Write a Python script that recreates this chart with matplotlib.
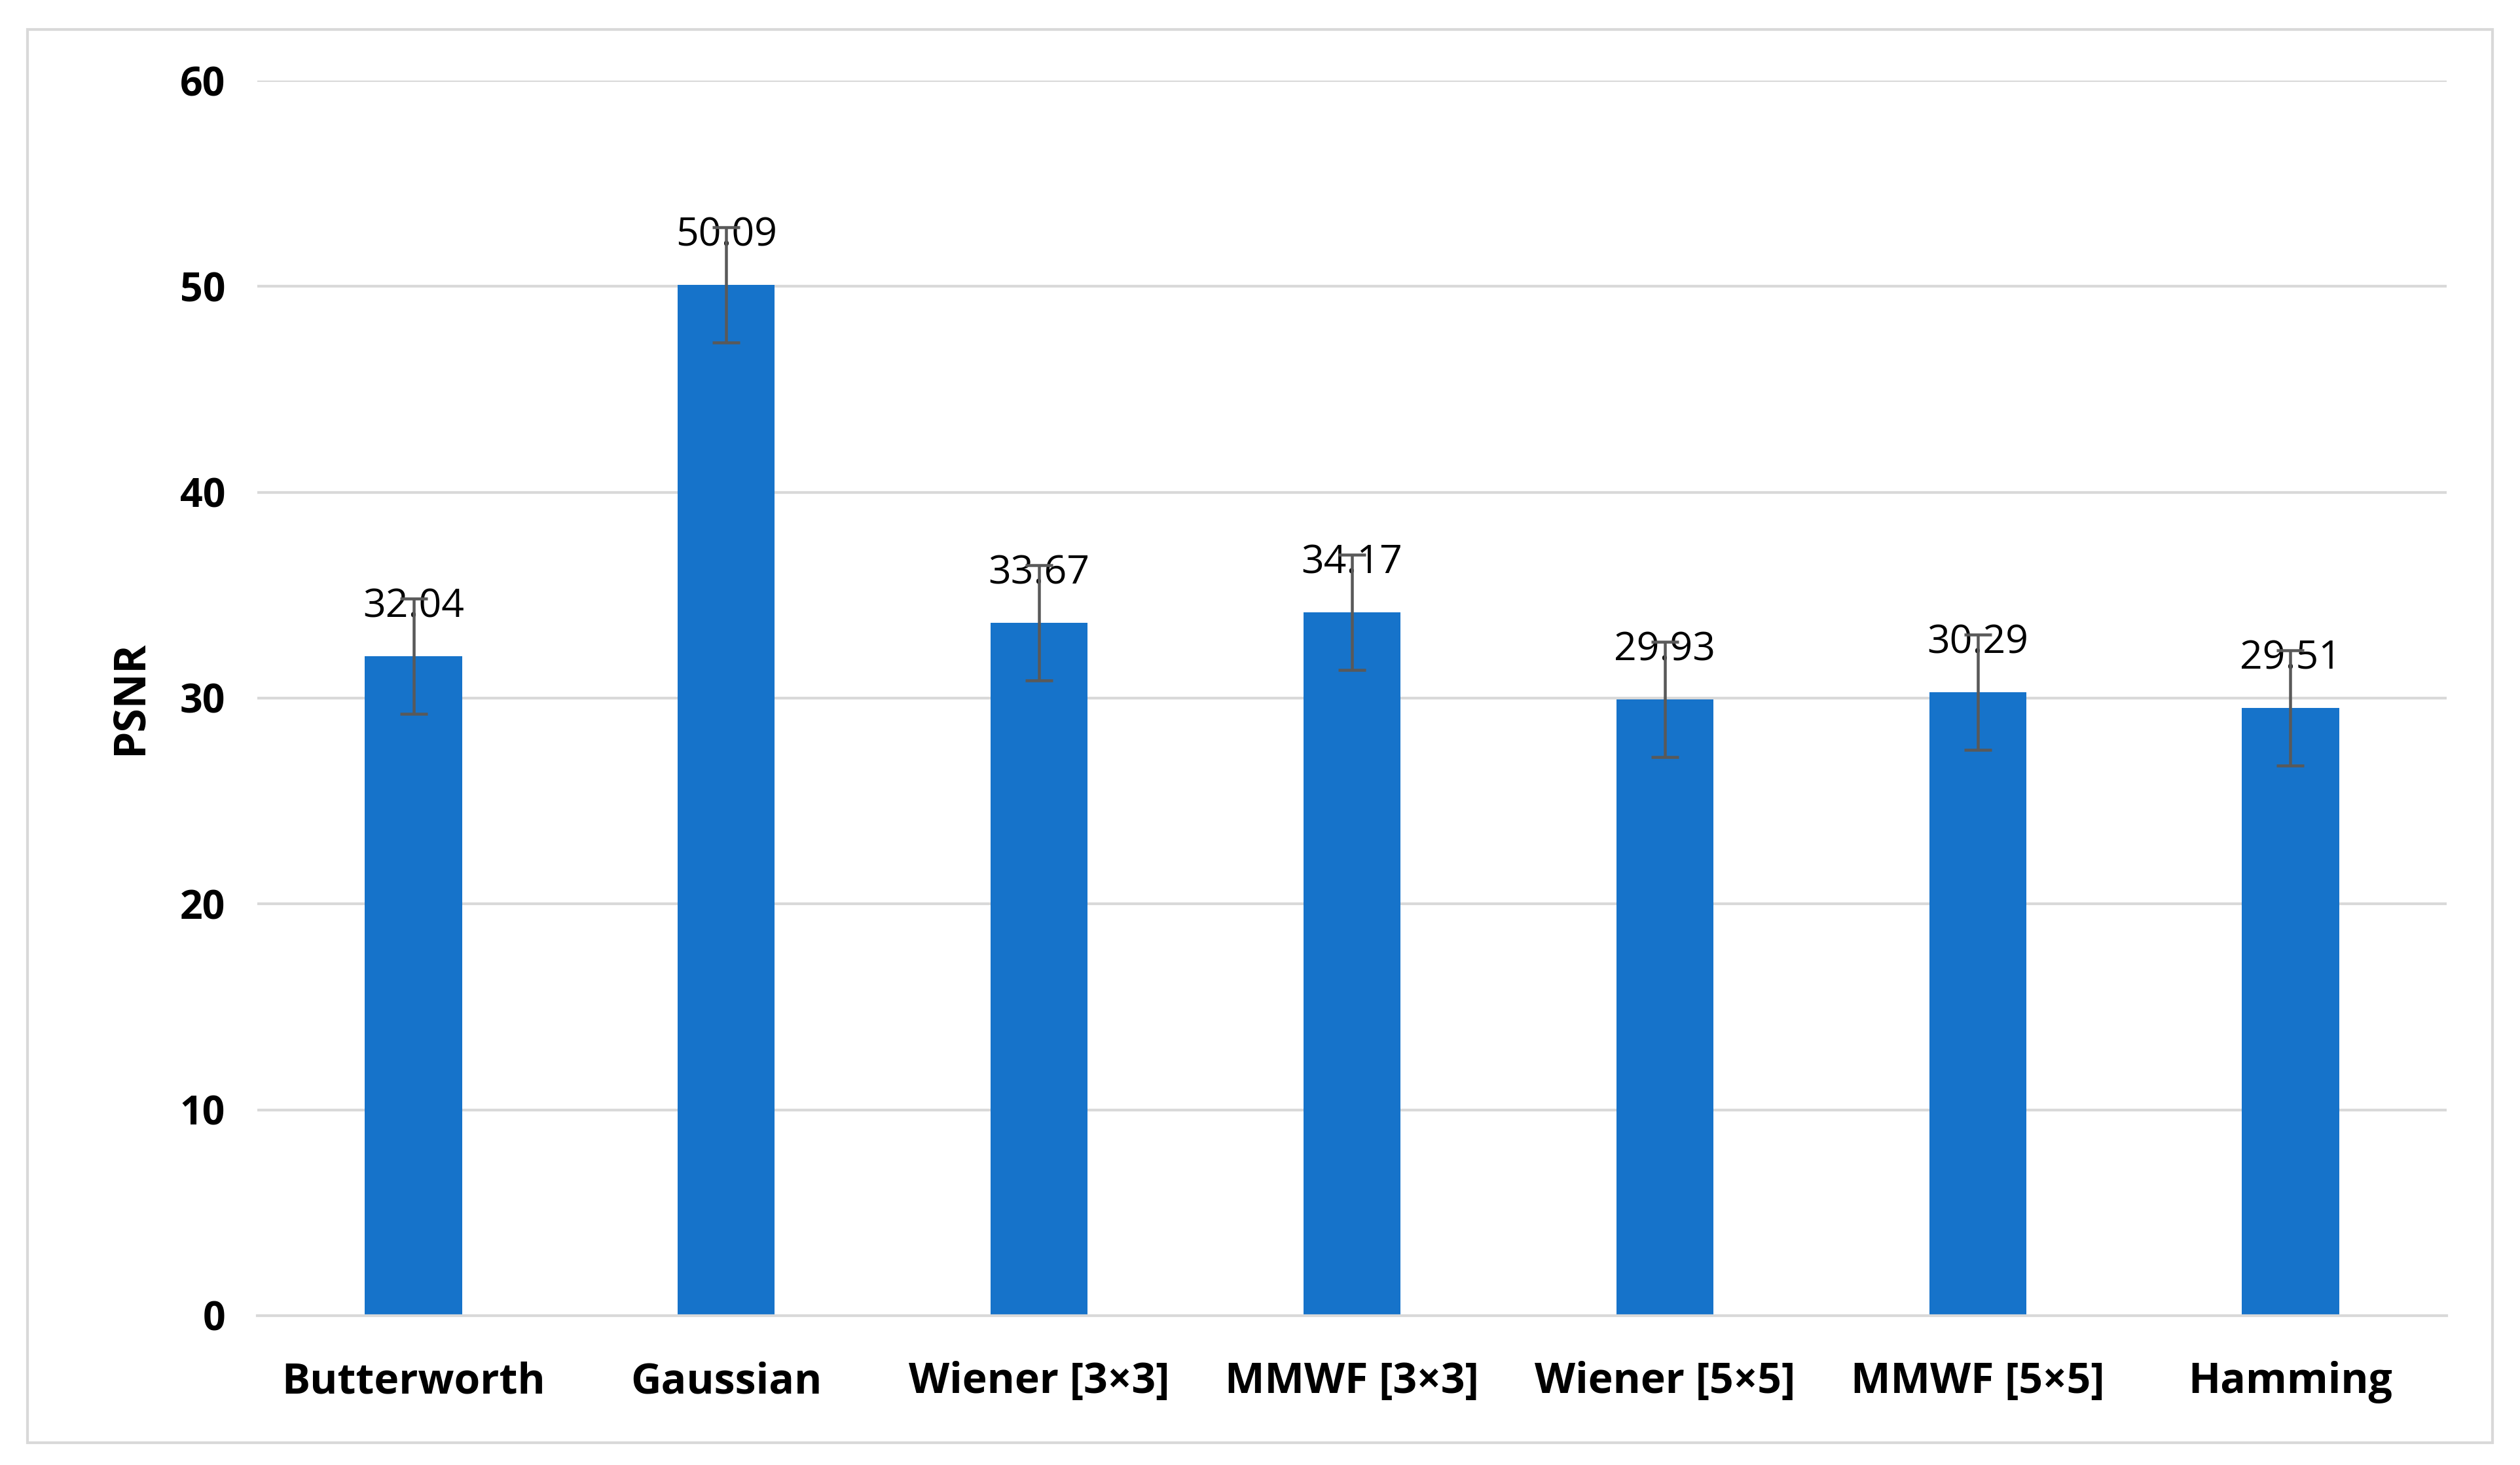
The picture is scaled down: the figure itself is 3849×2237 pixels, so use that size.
import numpy as np
import matplotlib.pyplot as plt
from matplotlib.patches import Rectangle

plt.rcParams['font.family'] = ['Open Sans', 'DejaVu Sans']

filters = ['Butterworth', 'Gaussian', 'Wiener [3×3]', 'MMWF [3×3]',
           'Wiener [5×5]', 'MMWF [5×5]', 'Hamming']
psnr = [32.04, 50.09, 33.67, 34.17, 29.93, 30.29, 29.51]
errors = [2.8, 2.8, 2.8, 2.8, 2.8, 2.8, 2.8]

fig = plt.figure(figsize=(15.396, 8.948), dpi=250)
ax = fig.add_axes([0.102, 0.102, 0.869, 0.843])

# outer chart frame
fig.patches.append(Rectangle((0.011, 0.015), 0.978, 0.965, transform=fig.transFigure,
                             fill=False, edgecolor='#d9d9d9', linewidth=1.2))

x = np.arange(len(filters))
ax.bar(x, psnr, width=0.31, color='#1673ca', zorder=2,
       yerr=errors, error_kw=dict(ecolor='#595959', elinewidth=1.3, capsize=6, capthick=1.3, zorder=3))

for xi, v in zip(x, psnr):
    ax.text(xi, v + 2.4, f'{v:.2f}', ha='center', va='center', fontsize=17.5, color='black', zorder=1)

ax.set_ylim(0, 60)
ax.set_xlim(-0.5, len(filters) - 0.5)
ax.set_yticks(range(0, 61, 10))
ax.yaxis.grid(True, color='#d9d9d9', linewidth=1.2, zorder=0)
ax.set_axisbelow(True)
for s in ['top', 'right', 'left']:
    ax.spines[s].set_visible(False)
ax.spines['bottom'].set_color('#d9d9d9')
ax.spines['bottom'].set_linewidth(1.2)
ax.tick_params(axis='y', length=0, labelsize=17.5, pad=14)
ax.tick_params(axis='x', length=0, labelsize=18.5, pad=20)
ax.set_xticks(x)
ax.set_xticklabels(filters, fontweight='bold')
for t in ax.get_yticklabels():
    t.set_fontweight('bold')
ax.set_ylabel('PSNR', fontsize=19, fontweight='bold', labelpad=12)

fig.savefig('out.png', dpi=250)
